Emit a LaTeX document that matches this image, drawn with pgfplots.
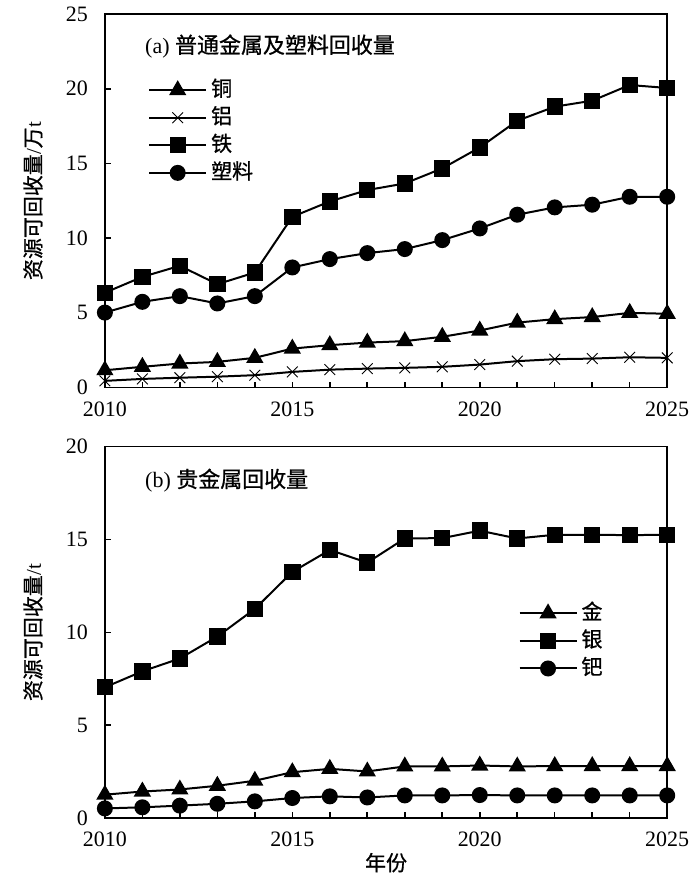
\documentclass[border=0pt]{standalone}
\usepackage{fontspec}
\setmainfont{Liberation Serif}
\newfontfamily\cjk[FakeBold=0.8]{Noto Sans CJK SC}
\usepackage{pgfplots}
\pgfplotsset{compat=1.18}
\begin{document}
\begin{tikzpicture}
\pgfplotsset{
  myaxis/.style={
    scale only axis, width=281.5pt,
    xmin=2010, xmax=2025, ymin=0,
    axis line style={line width=0.8pt},
    tick align=inside, xtick pos=left, ytick pos=left,
    major tick length=3pt,
    tick style={line width=0.8pt, black},
    xtick={2010,...,2025},
    xticklabels={2010,,,,,2015,,,,,2020,,,,,2025},
    /pgf/number format/assume math mode=true,
    tick label style={font=\fontsize{11}{13}\selectfont},
    yticklabel style={xshift=-5pt},
    xticklabel style={yshift=-3.5pt},
    every axis plot/.append style={line width=1pt, black},
    legend style={draw=none, fill=none, inner sep=0pt, row sep=0.8pt,
      nodes={inner sep=2pt, text height=7.5pt, text depth=1.5pt, font=\fontsize{10.5}{12}\selectfont\cjk}},
    legend cell align=left,
    legend image code/.code={\draw[mark repeat=2,mark phase=2,##1] plot coordinates {(0pt,0pt) (14.25pt,0pt) (28.5pt,0pt)};},
    every axis y label/.append style={at={(axis description cs:-0.128,0.5)}, anchor=center, rotate=0},
    label style={font=\fontsize{10.5}{12}\selectfont},
  },
  tri/.style={mark=triangle*, mark size=4pt},
  sq/.style={mark=square*, mark size=3.6pt},
  ci/.style={mark=*, mark size=3.5pt},
  xx/.style={mark=x, mark size=3.8pt, mark options={line width=0.45pt}},
}
\begin{axis}[myaxis, height=187pt, ymax=25, ytick={0,5,...,25},
  ylabel={{\cjk 资源可回收量}/{\cjk 万}t},
  legend style={at={(axis description cs:0.0764,0.832)}, anchor=north west}]
\addplot[tri] coordinates {(2010,1.16) (2011,1.39) (2012,1.61) (2013,1.72) (2014,1.99) (2015,2.61) (2016,2.84) (2017,3.01) (2018,3.11) (2019,3.40) (2020,3.82) (2021,4.35) (2022,4.58) (2023,4.72) (2024,5.00) (2025,4.94)};
\addlegendentry{铜}
\addplot[xx] coordinates {(2010,0.45) (2011,0.58) (2012,0.66) (2013,0.73) (2014,0.83) (2015,1.05) (2016,1.20) (2017,1.27) (2018,1.32) (2019,1.39) (2020,1.54) (2021,1.77) (2022,1.90) (2023,1.94) (2024,2.03) (2025,1.99)};
\addlegendentry{铝}
\addplot[sq] coordinates {(2010,6.35) (2011,7.41) (2012,8.15) (2013,6.92) (2014,7.70) (2015,11.43) (2016,12.46) (2017,13.22) (2018,13.66) (2019,14.67) (2020,16.07) (2021,17.86) (2022,18.80) (2023,19.20) (2024,20.25) (2025,20.05)};
\addlegendentry{铁}
\addplot[ci] coordinates {(2010,5.02) (2011,5.74) (2012,6.12) (2013,5.63) (2014,6.12) (2015,8.04) (2016,8.60) (2017,9.00) (2018,9.27) (2019,9.87) (2020,10.65) (2021,11.57) (2022,12.06) (2023,12.24) (2024,12.77) (2025,12.77)};
\addlegendentry{塑料}
\node[anchor=west, inner sep=0pt, font=\fontsize{11}{13}\selectfont] at (axis description cs:0.071,0.914) {(a) {\cjk 普通金属及塑料回收量}};
\end{axis}
\begin{axis}[myaxis, at={(0,-215.5pt)}, height=186pt, ymax=20, ytick={0,5,...,20},
  ylabel={{\cjk 资源可回收量}/t},
  xlabel={\cjk 年份},
  every axis x label/.append style={at={(axis description cs:0.5,-0.12)}, anchor=center},
  legend style={at={(axis description cs:0.735,0.587)}, anchor=north west}]
\addplot[tri] coordinates {(2010,1.26) (2011,1.43) (2012,1.54) (2013,1.74) (2014,2.01) (2015,2.47) (2016,2.65) (2017,2.51) (2018,2.78) (2019,2.78) (2020,2.83) (2021,2.78) (2022,2.80) (2023,2.80) (2024,2.80) (2025,2.80)};
\addlegendentry{金}
\addplot[sq] coordinates {(2010,7.04) (2011,7.90) (2012,8.59) (2013,9.77) (2014,11.26) (2015,13.25) (2016,14.43) (2017,13.75) (2018,15.05) (2019,15.07) (2020,15.47) (2021,15.05) (2022,15.25) (2023,15.25) (2024,15.23) (2025,15.25)};
\addlegendentry{银}
\addplot[ci] coordinates {(2010,0.52) (2011,0.58) (2012,0.67) (2013,0.77) (2014,0.90) (2015,1.08) (2016,1.17) (2017,1.11) (2018,1.22) (2019,1.22) (2020,1.24) (2021,1.22) (2022,1.22) (2023,1.22) (2024,1.22) (2025,1.22)};
\addlegendentry{钯}
\node[anchor=west, inner sep=0pt, font=\fontsize{11}{13}\selectfont] at (axis description cs:0.071,0.909) {(b) {\cjk 贵金属回收量}};
\end{axis}
\path (-52.5pt,193.5pt) rectangle (297.5pt,-248pt);
\end{tikzpicture}
\end{document}
